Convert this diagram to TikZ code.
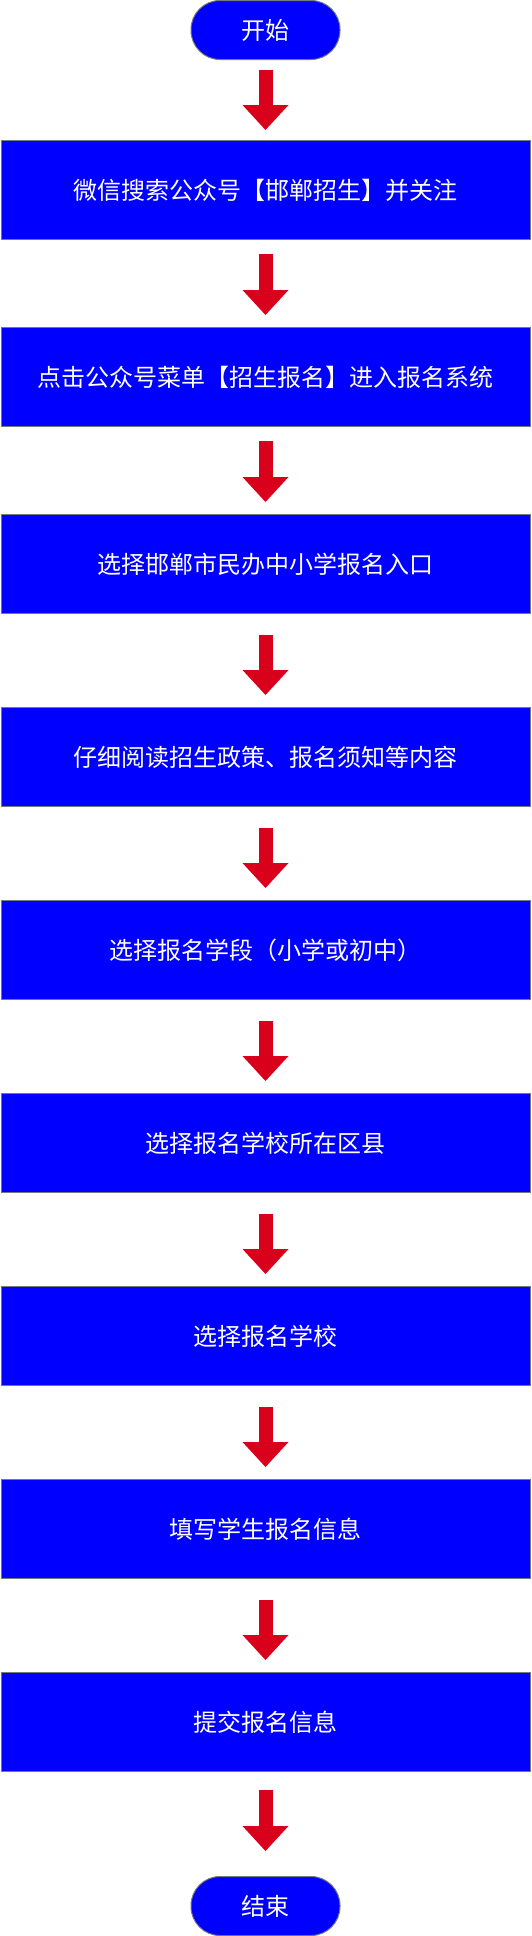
\documentclass[tikz,border=0pt]{standalone}
\usepackage{fontspec}
\setmainfont{Noto Sans CJK SC}
\usepackage{tikz}
\usetikzlibrary{arrows.meta}
\definecolor{boxblue}{HTML}{0000FF}
\definecolor{boxgray}{HTML}{797979}
\definecolor{arrowred}{HTML}{D9001B}
\tikzstyle{startstop} = [rectangle, rounded corners=29pt, minimum width=149pt, minimum height=59pt, inner sep=0pt, text centered, draw=boxgray, line width=1pt, fill=boxblue, text=white, font=\fontsize{24pt}{28pt}\selectfont]
\tikzstyle{process} = [rectangle, minimum width=529pt, minimum height=99pt, inner sep=0pt, text centered, draw=boxgray, line width=1pt, fill=boxblue, text=white, font=\fontsize{24pt}{28pt}\selectfont]
\tikzstyle{arrow} = [line width=14pt, draw=arrowred, -{Triangle[width=46pt,length=25pt,line width=0pt]}, shorten <=21pt, shorten >=12pt]

\begin{document}
\begin{tikzpicture}[x=1pt, y=1pt, node distance=193pt]
\useasboundingbox (0,0) rectangle (531,-1936);
\node (start) [startstop] at (265.5,-30) {开始};
\node (follow) [process, below of=start, yshift=33pt] {微信搜索公众号【邯郸招生】并关注};
\draw [arrow, shorten <=10pt, shorten >=10pt] (start) -- (follow);
\node (menu) [process, below of=follow, yshift=6pt] {点击公众号菜单【招生报名】进入报名系统};
\draw [arrow, shorten <=14pt] (follow) -- (menu);
\node (entry) [process, below of=menu, yshift=6pt] {选择邯郸市民办中小学报名入口};
\draw [arrow, shorten <=14pt] (menu) -- (entry);
\node (read) [process, below of=entry] {仔细阅读招生政策、报名须知等内容};
\draw [arrow] (entry) -- (read);
\node (stage) [process, below of=read] {选择报名学段（小学或初中）};
\draw [arrow] (read) -- (stage);
\node (county) [process, below of=stage] {选择报名学校所在区县};
\draw [arrow] (stage) -- (county);
\node (school) [process, below of=county] {选择报名学校};
\draw [arrow] (county) -- (school);
\node (fill) [process, below of=school] {填写学生报名信息};
\draw [arrow] (school) -- (fill);
\node (submit) [process, below of=fill] {提交报名信息};
\draw [arrow] (fill) -- (submit);
\node (stop) [startstop, below of=submit, yshift=9pt] {结束};
\draw [arrow, shorten <=18pt, shorten >=25pt] (submit) -- (stop);

\end{tikzpicture}
\end{document}
